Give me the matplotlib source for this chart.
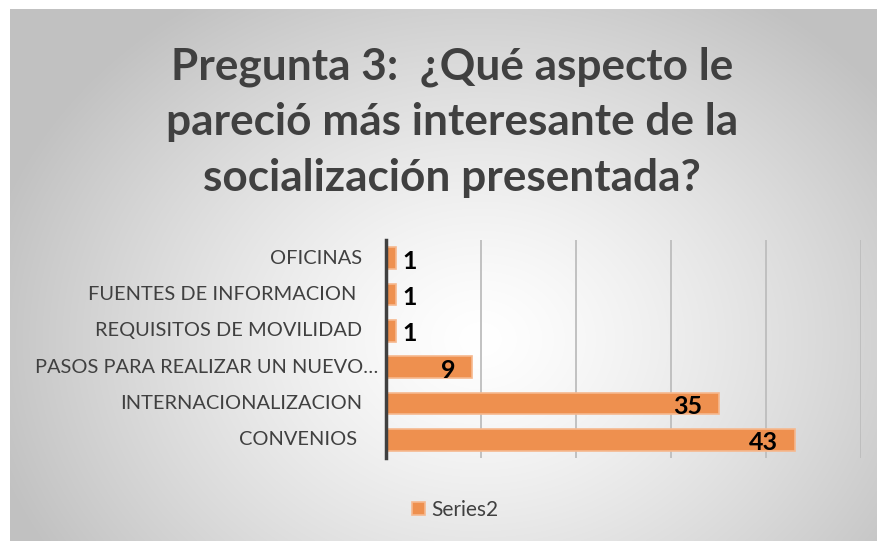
import numpy as np
import matplotlib
matplotlib.use("Agg")
import matplotlib.pyplot as plt
import matplotlib.transforms as mtransforms

# datos de la gráfica
categorias = ["OFICINAS", "FUENTES DE INFORMACION ", "REQUISITOS DE MOVILIDAD",
              "PASOS PARA REALIZAR UN NUEVO…", "INTERNACIONALIZACION", "CONVENIOS "]
valores = [1, 1, 1, 9, 35, 43]
serie = "Series2"
titulo = "Pregunta 3:  ¿Qué aspecto le\npareció más interesante de la\nsocialización presentada?"

W, H = 877, 541
FONT = ["Lato", "DejaVu Sans"]
GRIS = "#404040"
NARANJA = "#EE904F"

fig = plt.figure(figsize=(W / 100, H / 100), dpi=100)

# fondo con degradado radial
bg = fig.add_axes([10 / W, 0, 1 - 10 / W, 1 - 9 / H])
yy, xx = np.mgrid[0:H - 9, 0:W - 10]
cx, cy = 470, 330
r = np.sqrt(((xx - cx) / 520.0) ** 2 + ((yy - cy) / 420.0) ** 2)
g = np.clip(1.0 - 0.25 * r ** 1.3, 0.76, 1.0)
bg.imshow(np.dstack([g, g, g]), aspect="auto", extent=[0, 1, 0, 1], origin="upper")
bg.set_axis_off()

# título
fig.text(452 / W, 1 - 122 / H, titulo, ha="center", va="center",
         fontsize=31.8, fontweight="bold", color=GRIS, family=FONT, linespacing=1.47)

# gráfica de barras
ax = fig.add_axes([386 / W, 1 - 458 / H, (861 - 386) / W, (458 - 240) / H])
ax.patch.set_alpha(0)
y = np.arange(len(categorias))
barras = ax.barh(y, valores, height=0.6, color=NARANJA, edgecolor="#F6B88E",
                 linewidth=1.2, label=serie, zorder=3)
ax.set_ylim(len(categorias) - 0.5, -0.5)
ax.set_xlim(0, 50)
ax.set_xticks([10, 20, 30, 40, 50])
ax.xaxis.grid(True, color="#BDBDBD", linewidth=1.3, zorder=0)
ax.tick_params(axis="x", length=0, labelbottom=False)
ax.set_yticks(y)
ax.tick_params(axis="y", length=0, labelleft=False)
for s in ["top", "right", "bottom"]:
    ax.spines[s].set_visible(False)
ax.spines["left"].set_color(GRIS)
ax.spines["left"].set_linewidth(2.5)
ax.spines["left"].set_zorder(4)

# etiquetas de categoría (la truncada queda más a la derecha, como en Excel)
trans = mtransforms.blended_transform_factory(ax.transAxes, ax.transData)
for yi, cat in zip(y, categorias):
    dx = -8 if cat.endswith("…") else -24
    off = mtransforms.ScaledTranslation(dx / 100, 0, fig.dpi_scale_trans)
    ax.text(0, yi, cat, ha="right", va="center", fontsize=14.4, color=GRIS,
            family=FONT, transform=trans + off)

for yi, v in zip(y, valores):
    if v < 3:
        ax.text(v + 0.7, yi + 0.08, str(v), ha="left", va="center", fontsize=18,
                fontweight="bold", color="black", family=FONT, zorder=5)
    else:
        ax.text(v - 1.7, yi + 0.08, str(v), ha="right", va="center", fontsize=18,
                fontweight="bold", color="black", family=FONT, zorder=5)

leg = fig.legend(handles=[barras], labels=[serie], loc="center",
                 bbox_to_anchor=(455 / W, 1 - 510 / H), frameon=False,
                 prop={"family": FONT, "size": 15}, handlelength=0.6,
                 handleheight=0.6, handletextpad=0.3)
for t in leg.get_texts():
    t.set_color(GRIS)

fig.savefig("out.png", dpi=100)
